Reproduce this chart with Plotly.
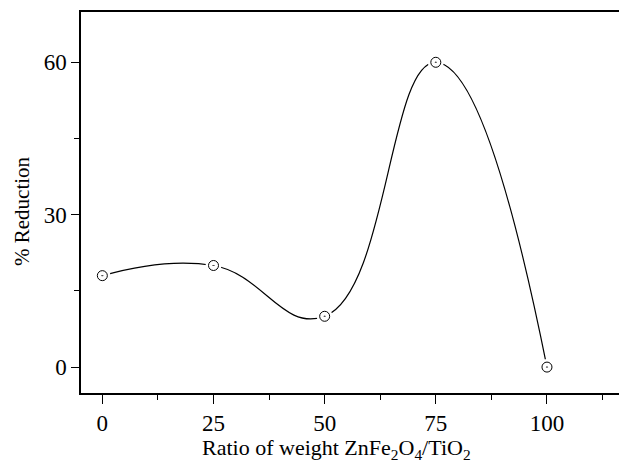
import plotly.graph_objects as go

ratio = [0, 25, 50, 75, 100]
reduction = [18, 20, 10, 60, 0]
x_ticks = [0, 25, 50, 75, 100]
y_ticks = [0, 30, 60]

FONT = "Liberation Serif"
W, H = 619, 465
L, R, T, B = 81, 0, 12, 72
pw, ph = W - L - R, H - T - B

fig = go.Figure()
fig.add_trace(go.Scatter(x=ratio, y=reduction, mode="lines",
                         line=dict(color="black", width=1.2, shape="spline", smoothing=1.3),
                         hoverinfo="skip"))
fig.add_trace(go.Scatter(x=ratio, y=reduction, mode="markers",
                         marker=dict(symbol="circle", size=16, color="white", line=dict(width=0)),
                         hoverinfo="skip"))
fig.add_trace(go.Scatter(x=ratio, y=reduction, mode="markers",
                         marker=dict(symbol="circle-open-dot", size=10, color="black",
                                     line=dict(width=1, color="black"))))

fig.update_layout(
    width=W, height=H, showlegend=False,
    margin=dict(l=L, r=R, t=T, b=B, pad=0),
    paper_bgcolor="white", plot_bgcolor="white",
    font=dict(family=FONT, size=23, color="black"),
    xaxis=dict(range=[-4.8, 116.2], tickvals=x_ticks, ticks="outside", ticklen=9, tickwidth=1.2,
               tickcolor="black", showline=True, linecolor="black", linewidth=1.5, mirror=True,
               showgrid=False, zeroline=False, tickfont=dict(family=FONT, size=23),
               minor=dict(dtick=12.5, tick0=0, ticks="outside", ticklen=5, tickwidth=1.2, tickcolor="black")),
    yaxis=dict(range=[-5.1, 69.9], tickvals=y_ticks, ticks="outside", ticklen=8, tickwidth=1.2,
               tickcolor="black", showline=True, linecolor="black", linewidth=1.5, mirror=False,
               showgrid=False, zeroline=False, tickfont=dict(family=FONT, size=23),
               minor=dict(dtick=15, tick0=0, ticks="outside", ticklen=5, tickwidth=1.2, tickcolor="black")),
    annotations=[
        dict(text="Ratio of weight ZnFe<sub>2</sub>O<sub>4</sub>/TiO<sub>2</sub>", xref="paper", yref="paper",
             x=(336 - L) / pw, y=-(449 - 393) / ph, xanchor="center", yanchor="middle", showarrow=False,
             font=dict(family=FONT, size=22)),
        dict(text="% Reduction", xref="paper", yref="paper", textangle=-90,
             x=-(L - 22) / pw, y=(393 - 211) / ph, xanchor="center", yanchor="middle", showarrow=False,
             font=dict(family=FONT, size=21)),
    ],
)
fig.write_html("out.html")
